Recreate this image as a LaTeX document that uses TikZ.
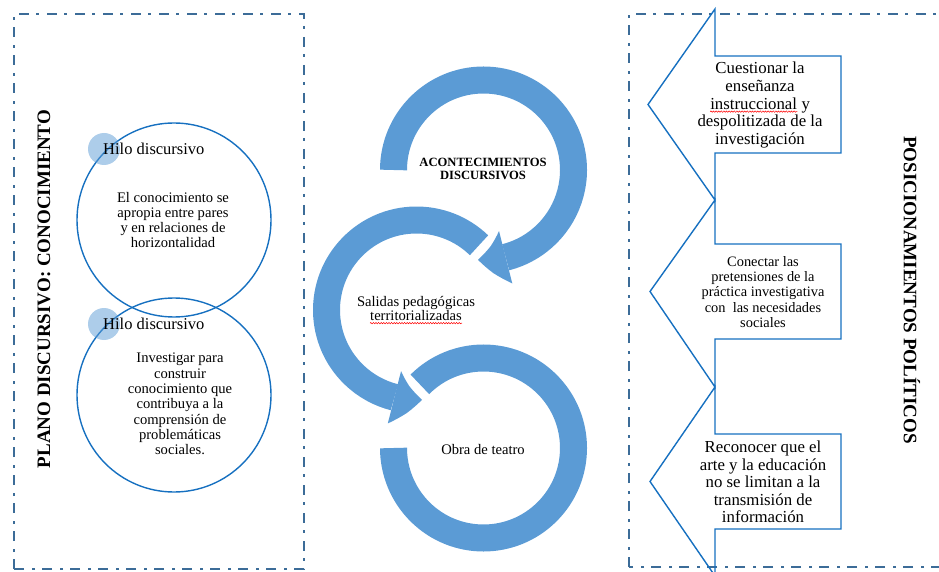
\documentclass[tikz,border=0pt]{standalone}
\usepackage{fontspec}
\setmainfont{Liberation Serif}
\usepackage{xcolor}
\usetikzlibrary{arrows.meta, bending, decorations.pathmorphing}
\definecolor{anillo}{RGB}{91,155,213}
\definecolor{trazo}{RGB}{22,112,192}
\definecolor{marco}{RGB}{60,108,152}
% subrayado ondulado rojo (corrector)
\newcommand{\ondulado}[1]{\tikz[baseline=(w.base)]{\node[inner sep=0pt] (w) {#1};
    \draw[red, line width=0.5pt, decorate, decoration={snake, amplitude=0.7pt, segment length=2.6pt}]
    ([yshift=-2.6pt]w.base west) -- ([yshift=-2.6pt]w.base east);}}
\tikzset{%
    % marcos punteados
    marcobox/.style = {draw=marco, line width=2.9pt,
    dash pattern=on 10pt off 7pt on 3pt off 8pt},
    % circulos de la izquierda
    hilo/.style     = {draw=trazo, line width=1.4pt},
    pastilla/.style = {fill=anillo, fill opacity=0.5},
    % flechas circulares
    ring/.style     = {draw=anillo, line width=27pt},
    ringtip/.style  = {ring, -{Triangle[length=28pt, width=54pt, line width=0pt, bend]}},
    % flechas de la derecha
    callout/.style  = {draw=trazo, line width=1.4pt, line join=miter},
    % titulos verticales
    titulo/.style   = {font=\fontsize{19}{21}\selectfont\bfseries, inner sep=0pt}
}
\begin{document}
\begin{tikzpicture}[x=1pt, y=1pt]

	\tikzstyle{circtext}=[align=center, font=\fontsize{14.6}{15.3}\selectfont]
	\tikzstyle{postext}=[align=center, font=\fontsize{16.8}{17.6}\selectfont]
	\tikzstyle{postext2}=[align=center, font=\fontsize{14.4}{15.3}\selectfont]
	\tikzstyle{hilotext}=[anchor=west, inner sep=0pt, font=\fontsize{16.5}{18}\selectfont]

	\useasboundingbox (0,0) rectangle (939,571);

	% marcos
	\draw[marcobox] (14,2) rectangle (304,557);
	\draw[marcobox] (629,4) rectangle (960,557);

	% plano discursivo
	\node[titulo, rotate=90] (titizq) at (44,282) {PLANO DISCURSIVO: CONOCIMIENTO};
	\draw[hilo] (174,351) circle (97);
	\draw[hilo] (174,176) circle (97);
	\fill[pastilla] (104,422) circle (16);
	\fill[pastilla] (104,247) circle (16);
	\node[hilotext] (hilo1) at (103,422) {Hilo discursivo};
	\node[hilotext] (hilo2) at (103,247) {Hilo discursivo};
	\node[circtext] (txt1) at (173,351) {El conocimiento se\\apropia entre pares\\y en relaciones de\\horizontalidad};
	\node[circtext] (txt2) at (180,167) {Investigar para\\construir\\conocimiento que\\contribuya a la\\comprensi\'on de\\problem\'aticas\\sociales.};

	% acontecimientos discursivos
	\coordinate (c1) at (483.5,401);
	\coordinate (c2) at (416.5,261);
	\coordinate (c3) at (483.5,123);
	\draw[ringtip] (c1) ++(180:90) arc[start angle=180, end angle=-93.5, radius=90];
	\draw[ringtip] (c2) ++(46:90) arc[start angle=46, end angle=273.5, radius=90];
	\draw[ring] (c3) ++(135:90) arc[start angle=135, end angle=-180, radius=90];
	\node[align=center, font=\fontsize{12.6}{12.6}\selectfont\bfseries] (acon) at (483,402) {ACONTECIMIENTOS\\DISCURSIVOS};
	\node[align=center, font=\fontsize{14.6}{14.5}\selectfont] (salidas) at (416,261) {Salidas pedag\'ogicas\\\ondulado{territorializadas}};
	\node[font=\fontsize{14.6}{15}\selectfont] (obra) at (483,121) {Obra de teatro};

	% posicionamientos politicos
	\node[titulo, rotate=-90] (titder) at (912,281) {POSICIONAMIENTOS POL\'ITICOS};
	\draw[callout] (715,562) -- (715,515) -- (841,515) -- (841,418) -- (715,418) -- (715,371) -- (648,466.5) -- cycle;
	\draw[callout] (715,371) -- (715,327) -- (841,327) -- (841,232) -- (715,232) -- (715,184) -- (650,279.5) -- cycle;
	\draw[callout] (715,184) -- (715,137) -- (841,137) -- (841,42) -- (715,42) -- (715,-5) -- (650,89.5) -- cycle;
	\node[postext] (pos1) at (760,466) {Cuestionar la\\ense\~nanza\\\ondulado{instruccional} y\\despolitizada de la\\investigaci\'on};
	\node[postext2] (pos2) at (763,279) {Conectar las\\pretensiones de la\\pr\'actica investigativa\\con\ \ las necesidades\\sociales};
	\node[postext] (pos3) at (763,89) {Reconocer que el\\arte y la educaci\'on\\no se limitan a la\\transmisi\'on de\\informaci\'on};

\end{tikzpicture}
\end{document}
